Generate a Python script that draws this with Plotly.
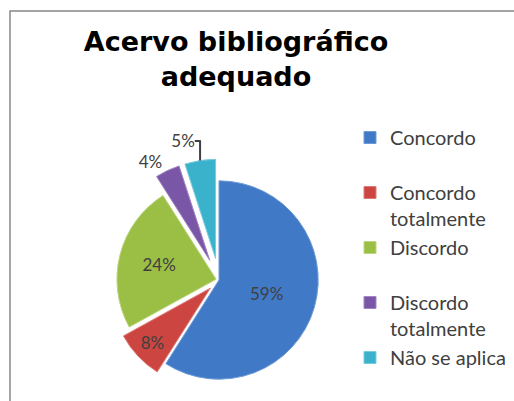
import plotly.graph_objects as go

categories = ["Concordo", "Concordo totalmente", "Discordo", "Discordo totalmente", "Não se aplica"]
legend_text = ["Concordo<br> ", "Concordo<br>totalmente", "Discordo<br> ", "Discordo<br>totalmente", "Não se aplica"]
values = [59, 8, 24, 4, 5]
colors = ["#4079C6", "#CC4540", "#9BBF45", "#7A57A6", "#3AB2CC"]
line_colors = ["#6E9BD8", "#E07C78", "#BCD67F", "#A286C4", "#7ACCDD"]
pulls = [0, 0.12, 0.03, 0.22, 0.22]
text_pos = ["inside", "inside", "inside", "outside", "outside"]

W, H = 514, 401
cx, cy, half = 219, 280, 121

fig = go.Figure(go.Pie(
    labels=legend_text,
    values=values,
    sort=False,
    direction="clockwise",
    rotation=0,
    pull=pulls,
    marker=dict(colors=colors, line=dict(color=line_colors, width=1)),
    textinfo="percent",
    textposition=text_pos,
    insidetextorientation="horizontal",
    textfont=dict(family="Lato", size=17, color="#404040"),
    domain=dict(x=[(cx - half) / W, (cx + half) / W], y=[max(0, (H - cy - half) / H), (H - cy + half) / H]),
    hoverinfo="label+percent",
))

x_left = 10 / W
y_top = 1 - 11 / H

fig.update_layout(
    width=W, height=H,
    margin=dict(l=0, r=0, t=0, b=0, autoexpand=False),
    paper_bgcolor="white",
    plot_bgcolor="white",
    title=dict(text="<b>Acervo bibliográfico<br>adequado</b>", x=236 / W, xanchor="center",
               y=1 - 51 / H, yanchor="top",
               font=dict(family="DejaVu Sans", size=27, color="#000000")),
    showlegend=True,
    legend=dict(x=350 / W, y=1 - 118 / H, xanchor="left", yanchor="top",
                valign="top", bgcolor="rgba(0,0,0,0)",
                font=dict(family="Lato", size=20, color="#404040")),
    shapes=[dict(type="path", xref="paper", yref="paper",
                 path=f"M {x_left},-0.2 L {x_left},{y_top} L 1.2,{y_top}",
                 line=dict(color="#888888", width=1.5))],
)

fig.write_html("out.html", config={"displayModeBar": False},
               post_script="document.body.style.margin='0px';document.body.style.overflow='hidden';")
